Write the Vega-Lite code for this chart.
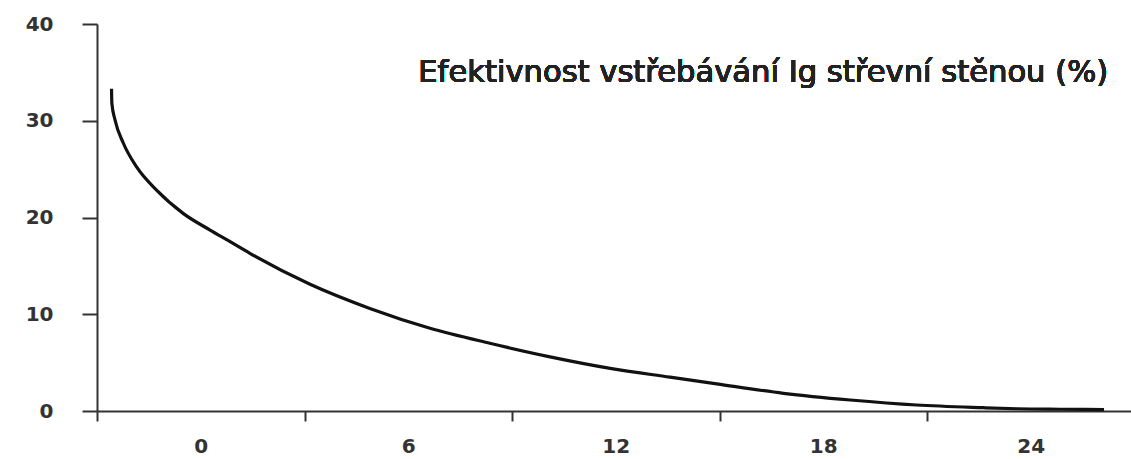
{
  "$schema": "https://vega.github.io/schema/vega-lite/v6.json",
  "autosize": "none",
  "width": 1034,
  "height": 387,
  "padding": {"left": 97, "top": 24, "right": 0, "bottom": 48},
  "background": "white",
  "config": {"view": {"stroke": null}},
  "data": {
    "values": [
      {"t": -2.58, "v": 33.3},
      {"t": -2.57, "v": 31.8},
      {"t": -2.48, "v": 30.1},
      {"t": -2.24, "v": 27.7},
      {"t": -1.85, "v": 25.2},
      {"t": -1.27, "v": 22.8},
      {"t": -0.5, "v": 20.4},
      {"t": 0.27, "v": 18.7},
      {"t": 0.85, "v": 17.5},
      {"t": 1.42, "v": 16.3},
      {"t": 3.16, "v": 13.1},
      {"t": 4.89, "v": 10.6},
      {"t": 6.63, "v": 8.55},
      {"t": 8.36, "v": 7.0},
      {"t": 10.1, "v": 5.6},
      {"t": 11.84, "v": 4.41},
      {"t": 13.57, "v": 3.5},
      {"t": 14.92, "v": 2.8},
      {"t": 16.85, "v": 1.83},
      {"t": 18.78, "v": 1.14},
      {"t": 20.7, "v": 0.62},
      {"t": 22.63, "v": 0.34},
      {"t": 23.6, "v": 0.23},
      {"t": 24.85, "v": 0.18},
      {"t": 26.12, "v": 0.15}
    ]
  },
  "layer": [
    {
      "mark": {"type": "line", "color": "#111", "strokeWidth": 3.2, "interpolate": "monotone", "strokeCap": "butt"},
      "encoding": {
        "x": {
          "field": "t",
          "type": "quantitative",
          "scale": {"domain": [-3, 26.9], "nice": false, "zero": false},
          "axis": {
            "title": null,
            "values": [0, 6, 12, 18, 24],
            "tickOffset": -103.7,
            "labelOffset": 103.7,
            "tickSize": 10,
            "tickWidth": 2,
            "tickColor": "#333",
            "domainColor": "#333",
            "domainWidth": 2,
            "grid": false,
            "labelFont": "DejaVu Sans",
            "labelFontWeight": "bold",
            "labelFontSize": 20,
            "labelColor": "#333",
            "labelPadding": 15,
            "labelOverlap": false,
            "labelFlush": false,
            "labelBound": false
          }
        },
        "y": {
          "field": "v",
          "type": "quantitative",
          "scale": {"domain": [0, 40], "nice": false},
          "axis": {
            "title": null,
            "values": [0, 10, 20, 30, 40],
            "tickSize": 15,
            "tickWidth": 2,
            "tickColor": "#333",
            "domainColor": "#333",
            "domainWidth": 2,
            "grid": false,
            "labelFont": "DejaVu Sans",
            "labelFontWeight": "bold",
            "labelFontSize": 20,
            "labelColor": "#333",
            "labelPadding": 29,
            "labelOverlap": false,
            "labelFlush": false,
            "labelBound": false
          }
        }
      }
    },
    {
      "mark": {"type": "text", "align": "right", "baseline": "alphabetic", "font": "DejaVu Sans", "fontSize": 30.6, "color": "#222"},
      "encoding": {
        "x": {"datum": 26.24, "type": "quantitative"},
        "y": {"datum": 34.0, "type": "quantitative"},
        "text": {"value": "Efektivnost vstřebávání Ig střevní stěnou (%)"}
      }
    }
  ]
}
